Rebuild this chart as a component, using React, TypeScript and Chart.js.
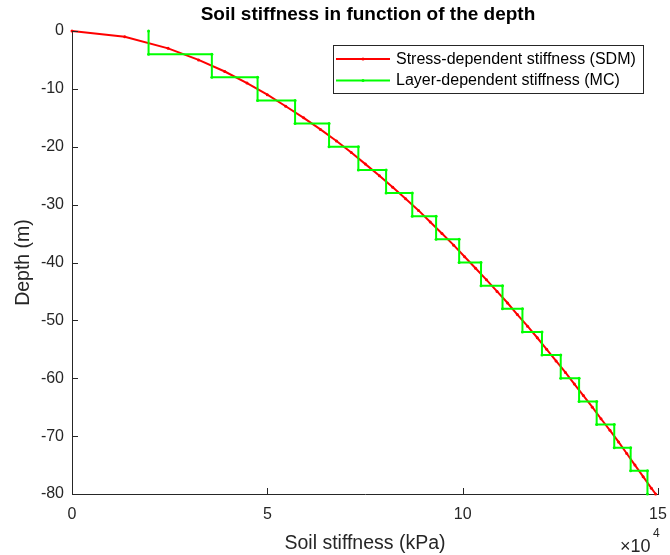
import React, { useEffect, useRef } from "react";
import { Chart, registerables } from "chart.js";

Chart.register(...registerables);

// Stress-dependent stiffness (SDM): depth (m) and stiffness (x10^4 kPa)
const sdmDepth = [0, -1, -3, -5, -7, -9, -11, -13, -15, -17, -19, -21, -23, -25, -27, -29, -31, -33, -35, -37, -39, -41, -43, -45, -47, -49, -51, -53, -55, -57, -59, -61, -63, -65, -67, -69, -71, -73, -75, -77, -79, -80];
const sdmStiffness = [0, 1.35, 2.46, 3.24, 3.91, 4.48, 5.0, 5.47, 5.93, 6.36, 6.77, 7.15, 7.51, 7.87, 8.21, 8.54, 8.87, 9.17, 9.47, 9.77, 10.05, 10.33, 10.61, 10.88, 11.15, 11.4, 11.66, 11.91, 12.15, 12.39, 12.63, 12.86, 13.09, 13.32, 13.54, 13.77, 13.99, 14.2, 14.41, 14.62, 14.83, 14.94];

// Layer-dependent stiffness (MC): layer top/bottom depth (m) and stiffness (x10^4 kPa)
const layerTop = [0, -4, -8, -12, -16, -20, -24, -28, -32, -36, -40, -44, -48, -52, -56, -60, -64, -68, -72, -76];
const layerBottom = [-4, -8, -12, -16, -20, -24, -28, -32, -36, -40, -44, -48, -52, -56, -60, -64, -68, -72, -76, -80];
const layerStiffness = [1.96, 3.58, 4.75, 5.71, 6.58, 7.33, 8.04, 8.71, 9.32, 9.91, 10.47, 11.02, 11.53, 12.03, 12.51, 12.98, 13.43, 13.88, 14.3, 14.73];

const xTicks = [0, 5, 10, 15];
const yTicks = [0, -10, -20, -30, -40, -50, -60, -70, -80];

const FONT = "'Liberation Sans', Arial, Helvetica, sans-serif";
const AXIS_COLOR = "#262626";

const overlayPlugin = {
  id: "overlay",
  afterDraw(chart: any) {
    const { ctx, chartArea, scales } = chart;
    const xs = scales.x;
    const ys = scales.y;
    ctx.save();
    // inward tick marks
    ctx.strokeStyle = AXIS_COLOR;
    ctx.lineWidth = 1;
    ctx.beginPath();
    xTicks.forEach((v) => {
      const px = Math.round(xs.getPixelForValue(v)) + 0.5;
      ctx.moveTo(px, chartArea.bottom);
      ctx.lineTo(px, chartArea.bottom - 6);
    });
    yTicks.forEach((v) => {
      const py = Math.round(ys.getPixelForValue(v)) + 0.5;
      ctx.moveTo(chartArea.left, py);
      ctx.lineTo(chartArea.left + 6, py);
    });
    ctx.stroke();

    const cx = (chartArea.left + chartArea.right) / 2;
    ctx.fillStyle = "#000000";
    ctx.textAlign = "center";
    ctx.textBaseline = "alphabetic";
    ctx.font = `bold 19px ${FONT}`;
    ctx.fillText("Soil stiffness in function of the depth", 368, 20);

    ctx.fillStyle = AXIS_COLOR;
    ctx.font = `19.5px ${FONT}`;
    ctx.fillText("Soil stiffness (kPa)", cx, 549);

    ctx.save();
    ctx.translate(29, (chartArea.top + chartArea.bottom) / 2);
    ctx.rotate(-Math.PI / 2);
    ctx.fillText("Depth (m)", 0, 0);
    ctx.restore();

    // exponent
    ctx.textAlign = "left";
    ctx.font = `18px ${FONT}`;
    ctx.fillText("\u00d710", 620, 552);
    ctx.font = `12px ${FONT}`;
    ctx.fillText("4", 653, 537);

    // legend
    const lx = 333, ly = 45, lw = 310, lh = 48;
    ctx.fillStyle = "#ffffff";
    ctx.fillRect(lx, ly, lw, lh);
    ctx.strokeStyle = AXIS_COLOR;
    ctx.lineWidth = 1;
    ctx.strokeRect(lx + 0.5, ly + 0.5, lw, lh);
    const items = [
      { label: "Stress-dependent stiffness (SDM)", color: "#ff0000", y: 59 },
      { label: "Layer-dependent stiffness (MC)", color: "#00ff00", y: 80.5 },
    ];
    items.forEach((it) => {
      ctx.strokeStyle = it.color;
      ctx.lineWidth = 2;
      ctx.beginPath();
      ctx.moveTo(336, it.y);
      ctx.lineTo(390, it.y);
      ctx.stroke();
      ctx.fillStyle = it.color;
      ctx.beginPath();
      ctx.arc(363, it.y, 1.5, 0, Math.PI * 2);
      ctx.fill();
      ctx.fillStyle = "#000000";
      ctx.font = `16px ${FONT}`;
      ctx.textBaseline = "middle";
      ctx.fillText(it.label, 396, it.y + 0.5);
    });
    ctx.restore();
  },
};

export default function App() {
  const canvasRef = useRef<HTMLCanvasElement | null>(null);

  useEffect(() => {
    if (!canvasRef.current) return;
    const sdmData = sdmDepth.map((d, i) => ({ x: sdmStiffness[i], y: d }));
    const mcData: { x: number; y: number }[] = [];
    layerStiffness.forEach((v, i) => {
      mcData.push({ x: v, y: layerTop[i] });
      mcData.push({ x: v, y: layerBottom[i] });
    });

    const chart = new Chart(canvasRef.current, {
      type: "scatter",
      data: {
        datasets: [
          {
            label: "Layer-dependent stiffness (MC)",
            data: mcData,
            showLine: true,
            borderColor: "#00ff00",
            backgroundColor: "#00ff00",
            borderWidth: 2,
            pointRadius: 1.5,
            pointBorderWidth: 0,
            pointHoverRadius: 1.5,
            tension: 0,
            clip: false as any,
          },
          {
            label: "Stress-dependent stiffness (SDM)",
            data: sdmData,
            showLine: true,
            borderColor: "#ff0000",
            backgroundColor: "#ff0000",
            borderWidth: 2,
            pointRadius: 1.5,
            pointBorderWidth: 0,
            pointHoverRadius: 1.5,
            tension: 0,
            clip: false as any,
          },
        ],
      },
      options: {
        responsive: false,
        animation: false,
        events: [],
        layout: { padding: { top: 31, right: 12, left: 0, bottom: 0 } },
        plugins: {
          legend: { display: false },
          title: { display: false },
          tooltip: { enabled: false },
        },
        scales: {
          x: {
            type: "linear",
            min: 0,
            max: 15,
            afterFit: (s: any) => {
              s.height = 61;
              s.paddingLeft = 0;
              s.paddingRight = 0;
            },
            afterBuildTicks: (s: any) => {
              s.ticks = xTicks.map((v) => ({ value: v }));
            },
            grid: { display: false, drawTicks: false },
            border: { display: true, color: AXIS_COLOR, width: 1 },
            ticks: {
              color: AXIS_COLOR,
              font: { family: FONT, size: 16 },
              padding: 11,
              maxRotation: 0,
            },
          },
          y: {
            type: "linear",
            min: -80,
            max: 0,
            afterFit: (s: any) => {
              s.width = 72;
              s.paddingTop = 0;
              s.paddingBottom = 0;
            },
            afterBuildTicks: (s: any) => {
              s.ticks = yTicks.map((v) => ({ value: v }));
            },
            grid: { display: false, drawTicks: false },
            border: { display: true, color: AXIS_COLOR, width: 1 },
            ticks: {
              color: AXIS_COLOR,
              font: { family: FONT, size: 16 },
              padding: 8,
            },
          },
        },
      },
      plugins: [overlayPlugin],
    });
    return () => chart.destroy();
  }, []);

  return (
    <div style={{ position: "fixed", left: 0, top: 0, width: 670, height: 555, background: "#fff" }}>
      <canvas ref={canvasRef} width={670} height={555} style={{ display: "block", width: 670, height: 555 }} />
    </div>
  );
}
